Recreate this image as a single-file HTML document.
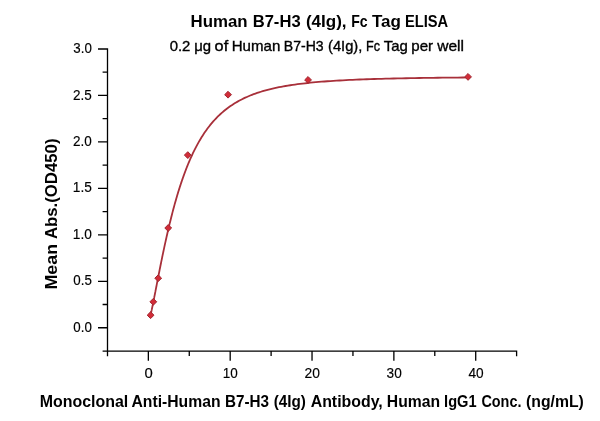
<!DOCTYPE html>
<html><head><meta charset="utf-8"><title>Human B7-H3 (4Ig), Fc Tag ELISA</title>
<style>
html,body{margin:0;padding:0;background:#fff;}
body{width:600px;height:421px;overflow:hidden;}
svg{display:block;}
text{font-family:"Liberation Sans",Arial,sans-serif;fill:#000;}
.b{font-weight:bold;}
.r{stroke:#000;stroke-width:0.35px;}
.tl text{stroke-width:0.15px;}
.tl text{font-size:13.9px;}
</style></head><body>
<svg width="600" height="421" viewBox="0 0 600 421">
<rect width="600" height="421" fill="#fff"/>
<path d="M107.5,48.34 L107.5,356.2 M102.6,351.2 L516.6,351.2 L516.6,356.2 M98.0,327.75 L107.5,327.75 M102.6,304.52 L107.5,304.52 M98.0,281.29 L107.5,281.29 M102.6,258.06 L107.5,258.06 M98.0,234.83 L107.5,234.83 M102.6,211.60 L107.5,211.60 M98.0,188.37 L107.5,188.37 M102.6,165.14 L107.5,165.14 M98.0,141.91 L107.5,141.91 M102.6,118.68 L107.5,118.68 M98.0,95.45 L107.5,95.45 M102.6,72.22 L107.5,72.22 M98.0,48.99 L107.5,48.99 M148.35,351.2 L148.35,360.8 M189.27,351.2 L189.27,356.0 M230.19,351.2 L230.19,360.8 M271.11,351.2 L271.11,356.0 M312.03,351.2 L312.03,360.8 M352.95,351.2 L352.95,356.0 M393.87,351.2 L393.87,360.8 M434.79,351.2 L434.79,356.0 M475.71,351.2 L475.71,360.8" fill="none" stroke="#000" stroke-width="1.3"/>
<g class="tl r"><text x="73.32" y="331.85" textLength="18.52" lengthAdjust="spacingAndGlyphs">0.0</text><text x="73.32" y="285.39" textLength="18.52" lengthAdjust="spacingAndGlyphs">0.5</text><text x="72.81" y="238.93" textLength="19.04" lengthAdjust="spacingAndGlyphs">1.0</text><text x="72.81" y="192.47" textLength="19.04" lengthAdjust="spacingAndGlyphs">1.5</text><text x="73.07" y="146.01" textLength="18.78" lengthAdjust="spacingAndGlyphs">2.0</text><text x="73.07" y="99.55" textLength="18.78" lengthAdjust="spacingAndGlyphs">2.5</text><text x="73.32" y="53.09" textLength="18.52" lengthAdjust="spacingAndGlyphs">3.0</text><text x="144.52" y="377.9" textLength="8.25" lengthAdjust="spacingAndGlyphs">0</text><text x="222.72" y="377.9" textLength="15.01" lengthAdjust="spacingAndGlyphs">10</text><text x="304.48" y="377.9" textLength="15.4" lengthAdjust="spacingAndGlyphs">20</text><text x="386.58" y="377.9" textLength="15.13" lengthAdjust="spacingAndGlyphs">30</text><text x="468.51" y="377.9" textLength="15.19" lengthAdjust="spacingAndGlyphs">40</text></g>
<path d="M150.60,314.92 L150.64,314.75 L150.68,314.59 L150.71,314.41 L150.75,314.24 L150.79,314.06 L150.84,313.88 L150.88,313.69 L150.92,313.50 L150.96,313.31 L151.01,313.11 L151.05,312.91 L151.10,312.71 L151.14,312.50 L151.19,312.29 L151.24,312.07 L151.28,311.85 L151.33,311.62 L151.38,311.39 L151.43,311.15 L151.48,310.91 L151.54,310.67 L151.59,310.42 L151.64,310.17 L151.70,309.91 L151.76,309.64 L151.81,309.37 L151.87,309.10 L151.93,308.82 L151.99,308.53 L152.05,308.24 L152.11,307.95 L152.17,307.64 L152.24,307.34 L152.30,307.02 L152.37,306.70 L152.44,306.37 L152.50,306.04 L152.57,305.70 L152.64,305.36 L152.72,305.01 L152.79,304.65 L152.86,304.28 L152.94,303.91 L153.02,303.53 L153.09,303.14 L153.17,302.75 L153.25,302.35 L153.34,301.94 L153.42,301.52 L153.50,301.10 L153.59,300.67 L153.68,300.23 L153.77,299.78 L153.86,299.33 L153.95,298.86 L154.04,298.39 L154.14,297.91 L154.23,297.42 L154.33,296.92 L154.43,296.41 L154.53,295.89 L154.64,295.37 L154.74,294.83 L154.85,294.29 L154.96,293.73 L155.07,293.17 L155.18,292.59 L155.30,292.01 L155.41,291.41 L155.53,290.81 L155.65,290.19 L155.77,289.57 L155.90,288.93 L156.02,288.28 L156.15,287.63 L156.28,286.96 L156.41,286.28 L156.55,285.58 L156.69,284.88 L156.82,284.17 L156.97,283.44 L157.11,282.70 L157.26,281.95 L157.41,281.19 L157.56,280.41 L157.71,279.63 L157.87,278.83 L158.03,278.01 L158.19,277.19 L158.35,276.35 L158.52,275.50 L158.69,274.64 L158.86,273.76 L159.04,272.87 L159.22,271.97 L159.40,271.05 L159.58,270.12 L159.77,269.18 L159.96,268.22 L160.16,267.25 L160.35,266.27 L160.55,265.27 L160.76,264.26 L160.97,263.23 L161.18,262.19 L161.39,261.14 L161.61,260.07 L161.83,258.99 L162.06,257.90 L162.28,256.79 L162.52,255.66 L162.75,254.52 L163.00,253.37 L163.24,252.21 L163.49,251.02 L163.74,249.83 L164.00,248.62 L164.26,247.40 L164.53,246.16 L164.80,244.91 L165.07,243.65 L165.35,242.37 L165.64,241.08 L165.92,239.78 L166.22,238.46 L166.52,237.13 L166.82,235.78 L167.13,234.43 L167.44,233.05 L167.76,231.67 L168.09,230.28 L168.42,228.87 L168.75,227.45 L169.09,226.02 L169.44,224.58 L169.79,223.12 L170.15,221.66 L170.52,220.18 L170.89,218.69 L171.26,217.19 L171.65,215.69 L172.03,214.17 L172.43,212.64 L172.83,211.11 L173.24,209.56 L173.66,208.01 L174.08,206.45 L174.51,204.88 L174.95,203.31 L175.39,201.73 L175.85,200.14 L176.31,198.54 L176.77,196.94 L177.25,195.34 L177.73,193.73 L178.22,192.11 L178.72,190.49 L179.23,188.87 L179.74,187.25 L180.27,185.62 L180.80,184.00 L181.35,182.37 L181.90,180.74 L182.46,179.11 L183.03,177.48 L183.61,175.85 L184.20,174.22 L184.80,172.60 L185.41,170.98 L186.02,169.36 L186.65,167.74 L187.29,166.13 L187.95,164.53 L188.61,162.93 L189.28,161.33 L189.96,159.74 L190.66,158.16 L191.37,156.59 L192.09,155.02 L192.82,153.47 L193.56,151.92 L194.32,150.38 L195.08,148.85 L195.87,147.34 L196.66,145.83 L197.47,144.34 L198.29,142.86 L199.12,141.39 L199.97,139.93 L200.83,138.49 L201.71,137.07 L202.60,135.65 L203.51,134.26 L204.43,132.87 L205.37,131.51 L206.32,130.16 L207.29,128.83 L208.28,127.51 L209.28,126.21 L210.30,124.93 L211.33,123.67 L212.39,122.42 L213.46,121.20 L214.54,119.99 L215.65,118.80 L216.78,117.63 L217.92,116.48 L219.08,115.35 L220.26,114.24 L221.47,113.15 L222.69,112.08 L223.93,111.03 L225.19,110.00 L226.48,108.99 L227.78,108.00 L229.11,107.03 L230.46,106.08 L231.83,105.15 L233.23,104.24 L234.65,103.35 L236.09,102.48 L237.56,101.63 L239.05,100.80 L240.57,99.99 L242.11,99.20 L243.67,98.43 L245.27,97.68 L246.89,96.95 L248.53,96.24 L250.21,95.54 L251.91,94.87 L253.64,94.21 L255.40,93.57 L257.19,92.95 L259.01,92.35 L260.86,91.76 L262.74,91.20 L264.65,90.65 L266.60,90.11 L268.57,89.59 L270.58,89.09 L272.63,88.60 L274.70,88.13 L276.82,87.68 L278.96,87.24 L281.15,86.81 L283.37,86.40 L285.62,86.00 L287.92,85.62 L290.25,85.25 L292.62,84.89 L295.03,84.54 L297.48,84.21 L299.98,83.89 L302.51,83.58 L305.09,83.28 L307.71,82.99 L310.37,82.72 L313.08,82.45 L315.83,82.19 L318.63,81.95 L321.48,81.71 L324.37,81.48 L327.32,81.27 L330.31,81.06 L333.35,80.86 L336.44,80.66 L339.59,80.48 L342.78,80.30 L346.03,80.13 L349.34,79.97 L352.70,79.81 L356.11,79.66 L359.58,79.52 L363.11,79.38 L366.70,79.25 L370.35,79.13 L374.06,79.01 L377.84,78.90 L381.67,78.79 L385.57,78.68 L389.54,78.58 L393.57,78.49 L397.67,78.40 L401.84,78.31 L406.07,78.23 L410.38,78.15 L414.76,78.07 L419.21,78.00 L423.74,77.93 L428.34,77.87 L433.02,77.81 L437.78,77.75 L442.62,77.69 L447.54,77.64 L452.54,77.59 L457.62,77.54 L462.79,77.50 L468.05,77.45" fill="none" stroke="#a8303a" stroke-width="1.8" stroke-linejoin="round"/>
<path d="M150.60,311.80 L154.00,315.20 L150.60,318.60 L147.20,315.20 Z" fill="#d22c38" stroke="#a0262f" stroke-width="1.0"/>
<path d="M153.30,298.40 L156.70,301.80 L153.30,305.20 L149.90,301.80 Z" fill="#d22c38" stroke="#a0262f" stroke-width="1.0"/>
<path d="M158.20,274.80 L161.60,278.20 L158.20,281.60 L154.80,278.20 Z" fill="#d22c38" stroke="#a0262f" stroke-width="1.0"/>
<path d="M168.20,224.60 L171.60,228.00 L168.20,231.40 L164.80,228.00 Z" fill="#d22c38" stroke="#a0262f" stroke-width="1.0"/>
<path d="M187.80,151.70 L191.20,155.10 L187.80,158.50 L184.40,155.10 Z" fill="#d22c38" stroke="#a0262f" stroke-width="1.0"/>
<path d="M228.05,91.30 L231.45,94.70 L228.05,98.10 L224.65,94.70 Z" fill="#d22c38" stroke="#a0262f" stroke-width="1.0"/>
<path d="M308.05,76.55 L311.45,79.95 L308.05,83.35 L304.65,79.95 Z" fill="#d22c38" stroke="#a0262f" stroke-width="1.0"/>
<path d="M468.05,73.50 L471.45,76.90 L468.05,80.30 L464.65,76.90 Z" fill="#d22c38" stroke="#a0262f" stroke-width="1.0"/>
<text class="b" font-size="17.0" x="190.56" y="26.7" textLength="57.05" lengthAdjust="spacingAndGlyphs">Human</text>
<text class="b" font-size="17.0" x="252.68" y="26.7" textLength="47.93" lengthAdjust="spacingAndGlyphs">B7-H3</text>
<text class="b" font-size="17.0" x="305.95" y="26.7" textLength="40.66" lengthAdjust="spacingAndGlyphs">(4Ig),</text>
<text class="b" font-size="17.0" x="351.17" y="26.7" textLength="16.43" lengthAdjust="spacingAndGlyphs">Fc</text>
<text class="b" font-size="17.0" x="371.95" y="26.7" textLength="28.97" lengthAdjust="spacingAndGlyphs">Tag</text>
<text class="b" font-size="17.0" x="405.02" y="26.7" textLength="43.16" lengthAdjust="spacingAndGlyphs">ELISA</text>
<text class="r" font-size="14.6" x="169.69" y="51.0" textLength="20.72" lengthAdjust="spacingAndGlyphs">0.2</text>
<text class="r" font-size="14.6" x="194.18" y="51.0" textLength="16.87" lengthAdjust="spacingAndGlyphs">μg</text>
<text class="r" font-size="14.6" x="214.64" y="51.0" textLength="13.57" lengthAdjust="spacingAndGlyphs">of</text>
<text class="r" font-size="14.6" x="231.71" y="51.0" textLength="48.57" lengthAdjust="spacingAndGlyphs">Human</text>
<text class="r" font-size="14.6" x="283.8" y="51.0" textLength="39.8" lengthAdjust="spacingAndGlyphs">B7-H3</text>
<text class="r" font-size="14.6" x="327.99" y="51.0" textLength="34.33" lengthAdjust="spacingAndGlyphs">(4Ig),</text>
<text class="r" font-size="14.6" x="366.12" y="51.0" textLength="13.98" lengthAdjust="spacingAndGlyphs">Fc</text>
<text class="r" font-size="14.6" x="383.74" y="51.0" textLength="24.11" lengthAdjust="spacingAndGlyphs">Tag</text>
<text class="r" font-size="14.6" x="411.27" y="51.0" textLength="21.79" lengthAdjust="spacingAndGlyphs">per</text>
<text class="r" font-size="14.6" x="437.2" y="51.0" textLength="26.75" lengthAdjust="spacingAndGlyphs">well</text>
<text class="b" font-size="15.8" x="39.69" y="406.5" textLength="88.53" lengthAdjust="spacingAndGlyphs">Monoclonal</text>
<text class="b" font-size="15.8" x="131.5" y="406.5" textLength="89.01" lengthAdjust="spacingAndGlyphs">Anti-Human</text>
<text class="b" font-size="15.8" x="225.03" y="406.5" textLength="44.1" lengthAdjust="spacingAndGlyphs">B7-H3</text>
<text class="b" font-size="15.8" x="273.67" y="406.5" textLength="32.26" lengthAdjust="spacingAndGlyphs">(4Ig)</text>
<text class="b" font-size="15.8" x="310.7" y="406.5" textLength="72.08" lengthAdjust="spacingAndGlyphs">Antibody,</text>
<text class="b" font-size="15.8" x="386.81" y="406.5" textLength="53.23" lengthAdjust="spacingAndGlyphs">Human</text>
<text class="b" font-size="15.8" x="444.08" y="406.5" textLength="32.47" lengthAdjust="spacingAndGlyphs">IgG1</text>
<text class="b" font-size="15.8" x="481.42" y="406.5" textLength="40.02" lengthAdjust="spacingAndGlyphs">Conc.</text>
<text class="b" font-size="15.8" x="526.05" y="406.5" textLength="57.75" lengthAdjust="spacingAndGlyphs">(ng/mL)</text>
<g transform="translate(57.4,0) rotate(-90)"><text class="b" font-size="17.2" x="-289.5" y="0" textLength="45.63" lengthAdjust="spacingAndGlyphs">Mean</text><text class="b" font-size="17.2" x="-239.09" y="0" textLength="100.57" lengthAdjust="spacingAndGlyphs">Abs.(OD450)</text></g>
</svg>
</body></html>
